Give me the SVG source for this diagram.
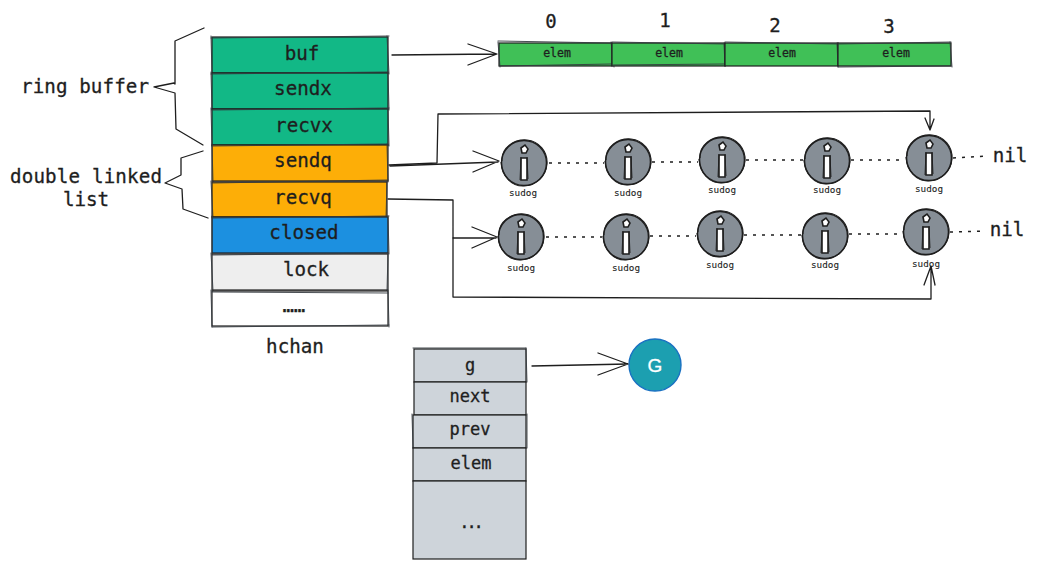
<svg xmlns="http://www.w3.org/2000/svg" width="1037" height="569" viewBox="0 0 1037 569">
<style>
text{font-family:"DejaVu Sans Mono","Liberation Mono",monospace;fill:#1e1e1e;text-anchor:middle;stroke:#1e1e1e;stroke-width:.3}
.l{font-size:19.2px}
.e{font-size:11.5px}
.i{font-size:17px}
.n{font-size:19px}
.s{font-size:9.3px;stroke-width:.1}
.box{stroke:#1e1e1e;stroke-width:1.2}
.r{fill:none;stroke:#343a40;stroke-width:.9;stroke-linecap:round}
.c{fill:none;stroke:#1e1e1e;stroke-width:1.3;stroke-linecap:round;stroke-linejoin:round}
.d{fill:none;stroke:#1e1e1e;stroke-width:1.5;stroke-dasharray:3 6}
</style>
<defs>
<g id="sd">
<circle r="22.5" fill="#868e96" stroke="#1e1e1e" stroke-width="1.5"/>
<path d="M-22-2 C-23-15-10-24 3-23 C15-22 24-11 23 1 C22 14 11 23-1 23 C-13 23-22 13-23-1" fill="none" stroke="#1e1e1e" stroke-width="1.1"/>
<path d="M-3-15 L1-18 L4-14 L2-10 L-2-10Z" fill="#fff" stroke="#1e1e1e" stroke-width="1.6"/>
<path d="M-3-5 H3 L3 17 H-3Z" fill="#fff" stroke="#1e1e1e" stroke-width="1.6"/>
<path d="M-3-6 L-4 17 M3-6 L4 16" fill="none" stroke="#1e1e1e" stroke-width=".9"/>
</g>
</defs>
<g id="hchan-buf"><rect class="box" x="212" y="37" width="176" height="36" fill="#12b886"/><path class="r" d="M211 38 L389 36 M211 36 L212 74 M387 36 L389 74"/><text class="l" x="302" y="60">buf</text></g>
<g id="hchan-sendx"><rect class="box" x="212" y="73" width="176" height="36" fill="#12b886"/><path class="r" d="M211 74 L388 72 M211 72 L212 110 M388 72 L389 110"/><text class="l" x="303" y="95">sendx</text></g>
<g id="hchan-recvx"><rect class="box" x="212" y="109" width="176" height="36" fill="#12b886"/><path class="r" d="M212 110 L389 108 M211 108 L212 146 M388 108 L389 146"/><text class="l" x="304" y="132">recvx</text></g>
<g id="hchan-sendq"><rect class="box" x="212" y="145" width="176" height="36" fill="#fdae07"/><path class="r" d="M212 146 L388 144 M212 144 L213 182 M387 144 L388 182"/><text class="l" x="303" y="167">sendq</text></g>
<g id="hchan-recvq"><rect class="box" x="212" y="182" width="175" height="35" fill="#fdae07"/><path class="r" d="M212 183 L388 180 M211 181 L213 218 M387 181 L386 218"/><text class="l" x="303" y="204">recvq</text></g>
<g id="hchan-closed"><rect class="box" x="212" y="217" width="176" height="36" fill="#1c90e0"/><path class="r" d="M212 218 L389 216 M212 216 L212 254 M388 216 L389 254"/><text class="l" x="304" y="239">closed</text></g>
<g id="hchan-lock"><rect class="box" x="212" y="254" width="176" height="36" fill="#eeeeee"/><path class="r" d="M212 255 L388 253 M211 253 L213 291 M388 253 L387 291"/><text class="l" x="306" y="276">lock</text></g>
<g id="hchan-more"><rect class="box" x="212" y="291" width="176" height="35" fill="#fff"/><path class="r" d="M212 292 L388 293 M211 290 L212 327 M388 290 L389 327 M212 327 L389 325"/><text class="l" x="290" y="312" letter-spacing="-7.8">......</text></g>
<g id="hchan-label"><text class="l" x="295" y="353">hchan</text></g>
<g id="ring-label"><text class="l" x="85" y="93" textLength="128">ring buffer</text></g>
<g id="list-label"><text class="l" x="86" y="183" textLength="152">double linked</text><text class="l" x="86" y="206">list</text></g>
<g id="elem0"><rect class="box" x="499" y="43" width="113" height="23" fill="#40c057"/><path class="r" d="M498 41 L612 43 M498 42 L500 67 M611 42 L614 67 M500 66 L612 64"/><text class="e" x="557" y="57">elem</text><text class="n" x="551" y="28">0</text></g>
<g id="elem1"><rect class="box" x="612" y="43" width="113" height="23" fill="#40c057"/><path class="r" d="M612 42 L725 44 M724 43 L725 66 M612 65 L725 64"/><text class="e" x="669" y="57">elem</text><text class="n" x="665" y="27">1</text></g>
<g id="elem2"><rect class="box" x="725" y="43" width="113" height="23" fill="#40c057"/><path class="r" d="M725 42 L838 44 M837 43 L838 67"/><text class="e" x="782" y="57">elem</text><text class="n" x="775" y="32">2</text></g>
<g id="elem3"><rect class="box" x="838" y="43" width="113" height="23" fill="#40c057"/><path class="r" d="M838 44 L951 42 M950 42 L952 67 M838 67 L951 66"/><text class="e" x="896" y="57">elem</text><text class="n" x="889" y="33">3</text></g>
<g id="sudog-a1"><use href="#sd" x="524" y="163"/><text class="s" x="523" y="196">sudog</text></g>
<g id="sudog-a2"><use href="#sd" x="628" y="162"/><text class="s" x="628" y="196">sudog</text></g>
<g id="sudog-a3"><use href="#sd" x="722" y="160"/><text class="s" x="722" y="193">sudog</text></g>
<g id="sudog-a4"><use href="#sd" x="827" y="161"/><text class="s" x="827" y="193">sudog</text></g>
<g id="sudog-a5"><use href="#sd" x="929" y="158"/><text class="s" x="929" y="192">sudog</text></g>
<g id="sudog-b1"><use href="#sd" x="521" y="237"/><text class="s" x="521" y="271">sudog</text></g>
<g id="sudog-b2"><use href="#sd" x="626" y="237"/><text class="s" x="626" y="271">sudog</text></g>
<g id="sudog-b3"><use href="#sd" x="720" y="234"/><text class="s" x="720" y="268">sudog</text></g>
<g id="sudog-b4"><use href="#sd" x="825" y="236"/><text class="s" x="825" y="268">sudog</text></g>
<g id="sudog-b5"><use href="#sd" x="926" y="232"/><text class="s" x="926" y="267">sudog</text></g>
<g id="nil-a"><text class="l" x="1010" y="162">nil</text></g>
<g id="nil-b"><text class="l" x="1007" y="236">nil</text></g>
<g id="sudog-g"><rect class="box" x="414" y="349" width="112" height="33" fill="#ced4da"/><path class="r" d="M413 348 L526 348 M526 348 L527 382"/><text class="i" x="470" y="371">g</text></g>
<g id="sudog-next"><rect class="box" x="414" y="382" width="112" height="33" fill="#ced4da"/><text class="i" x="470" y="402">next</text></g>
<g id="sudog-prev"><rect class="box" x="413" y="415" width="113" height="33" fill="#ced4da"/><path class="r" d="M412 414 L413 448 M527 414 L527 448"/><text class="i" x="470" y="435">prev</text></g>
<g id="sudog-elem"><rect class="box" x="413" y="448" width="113" height="33" fill="#ced4da"/><text class="i" x="471" y="469">elem</text></g>
<g id="sudog-more"><rect class="box" x="413" y="481" width="113" height="78" fill="#ced4da"/><text class="i" x="470" y="528" letter-spacing="-3">...</text></g>
<g id="g-node"><circle cx="655" cy="365" r="26" fill="#1c9fb0" stroke="#1971c2" stroke-width="1.4"/><text x="655" y="372" style="font-family:'Liberation Sans',sans-serif;font-size:19px;fill:#fff;stroke:#fff;stroke-width:.3">G</text></g>
<g id="connectors">
<path class="c" d="M204 28 L175 41 V84 L174 83 L154 87 L175 93 L176 129 L203 145"/>
<path class="c" d="M203 151 L181 158 V175 L165 183 L182 189 L183 209 L208 218"/>
<path class="c" d="M392 55 L496 54 M468 44 L497 54 L468 65"/>
<path class="c" d="M389 165 L437 163 L438 114 L930 111 V129 M925 118 L930 130 L934 119"/>
<path class="c" d="M390 166 L498 162 M473 151 L499 161 L473 172"/>
<path class="c" d="M388 199 L453 200 V238 L496 238 M472 227 L497 237 L472 248"/>
<path class="c" d="M453 238 V297 L931 299 V267 M924 285 L931 266 L935 285"/>
<path class="c" d="M532 366 L628 364 M598 353 L628 364 L598 375"/>
<path class="d" d="M549 163 H604"/><path class="d" d="M652 162 H698"/><path class="d" d="M746 160 H803"/><path class="d" d="M851 160 H905"/><path class="d" d="M953 158 L988 156"/>
<path class="d" d="M546 237 H602"/><path class="d" d="M650 236 H696"/><path class="d" d="M744 235 H801"/><path class="d" d="M849 234 H902"/><path class="d" d="M950 232 L985 231"/>
</g>
</svg>
